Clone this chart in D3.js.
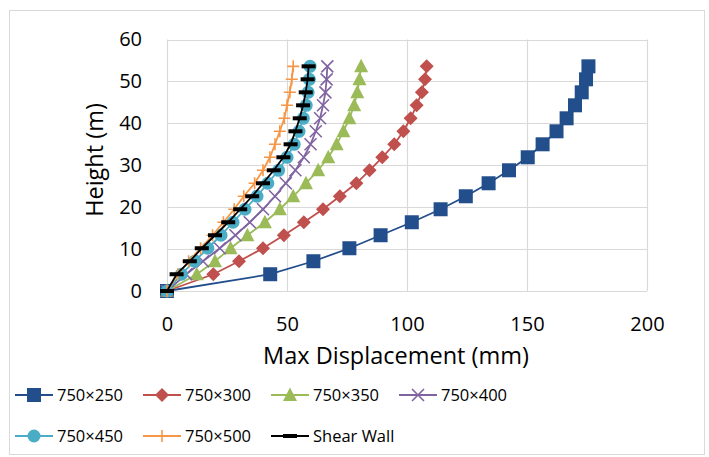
<!DOCTYPE html>
<html>
<head>
<meta charset="utf-8">
<script src="https://cdn.jsdelivr.net/npm/d3@7"></script>
<style>
  body { margin: 0; background: #fff; }
  text { font-family: "Open Sans", "Liberation Sans", sans-serif; fill: #000; }
</style>
</head>
<body>
<svg id="chart" width="709" height="457"></svg>
<script>
// ---- data ----
const heights = [0, 4, 7.1, 10.2, 13.3, 16.4, 19.5, 22.6, 25.7, 28.8, 31.9, 35, 38.1, 41.2, 44.3, 47.4, 50.5, 53.6];
const seriesNames = ["750×250", "750×300", "750×350", "750×400", "750×450", "750×500", "Shear Wall"];
const d250 = [0, 43, 61, 76, 89, 102, 114, 124.5, 134, 142.5, 150.3, 156.5, 162.3, 166.5, 170, 172.8, 174.6, 175.6];
const d300 = [0, 19.3, 30, 40, 48.7, 57, 65, 72, 78.9, 84.4, 89.7, 94.7, 98.5, 101.5, 104, 106.2, 107.5, 108.2];
const d350 = [0, 12.4, 20, 26.5, 33.5, 40.8, 47, 52.6, 57.9, 63, 67.2, 70.7, 73.5, 76, 78, 79.3, 80.2, 80.9];
const d400 = [0, 8, 15, 22, 28.5, 34.5, 40, 45, 49.5, 53.5, 57, 59.8, 62, 63.8, 65, 66, 66.5, 66.8];
const d450 = [0, 6, 11.5, 17, 22.5, 27.5, 32.5, 37.5, 42, 46.5, 50, 53, 55, 56.8, 58, 58.8, 59.3, 59.6];
const d500 = [0, 4.5, 9, 14, 19, 23.5, 28, 32, 36.5, 40, 42.9, 45, 47, 48.9, 50, 51.2, 52, 52.6];
const dShear = [0, 4, 9.5, 14.5, 20, 25.5, 30.5, 35.5, 40, 44.5, 48.5, 51.5, 53.5, 55.3, 56.7, 57.8, 58.6, 59];
const xTicks = [0, 50, 100, 150, 200];
const yTicks = [0, 10, 20, 30, 40, 50, 60];
const xTitle = "Max Displacement (mm)";
const yTitle = "Height (m)";

const seriesValues = [d250, d300, d350, d400, d450, d500, dShear];
const colors = ["#234e8c", "#c0504d", "#9bbb59", "#8064a2", "#4bacc6", "#f79646", "#000000"];
const markers = ["square", "diamond", "triangle", "x", "circle", "plus", "dash"];

const svg = d3.select("#chart");
svg.append("rect").attr("x", 0).attr("y", 0).attr("width", 709).attr("height", 457).attr("fill", "#fff");
svg.append("rect").attr("x", 9.5).attr("y", 10.5).attr("width", 695).attr("height", 444)
  .attr("fill", "none").attr("stroke", "#d9d9d9");

const x = d3.scaleLinear().domain([0, 200]).range([167, 647]);
const y = d3.scaleLinear().domain([0, 60]).range([291, 39.5]);

// gridlines
svg.append("g").selectAll("line").data(yTicks).join("line")
  .attr("x1", 167).attr("x2", 647)
  .attr("y1", d => Math.round(y(d)) + 0.5).attr("y2", d => Math.round(y(d)) + 0.5)
  .attr("stroke", "#d9d9d9").attr("stroke-width", 1.2);
svg.append("g").selectAll("line").data(xTicks).join("line")
  .attr("y1", y(0)).attr("y2", y(60))
  .attr("x1", d => Math.round(x(d)) + 0.5).attr("x2", d => Math.round(x(d)) + 0.5)
  .attr("stroke", "#d9d9d9").attr("stroke-width", 1.2);

// axes (labels only)
const xAxis = svg.append("g").attr("transform", `translate(0,${y(0)})`)
  .call(d3.axisBottom(x).tickValues(xTicks).tickSize(0).tickPadding(26));
xAxis.select(".domain").remove();
xAxis.selectAll("text").style("font-size", "20px").style("font-family", "'Open Sans'");
const yAxis = svg.append("g").attr("transform", `translate(${x(0)},0)`)
  .call(d3.axisLeft(y).tickValues(yTicks).tickSize(0).tickPadding(25));
yAxis.select(".domain").remove();
yAxis.selectAll("text").style("font-size", "20px").style("font-family", "'Open Sans'");

svg.append("text").attr("x", 396).attr("y", 364).attr("text-anchor", "middle")
  .style("font-size", "23.5px").text(xTitle);
svg.append("text").attr("transform", "translate(103,160) rotate(-90)").attr("text-anchor", "middle")
  .style("font-size", "23.5px").text(yTitle);

function drawMarker(g, type, color) {
  if (type === "square") {
    g.append("rect").attr("x", -7).attr("y", -7).attr("width", 14).attr("height", 14).attr("fill", color);
  } else if (type === "diamond") {
    g.append("path").attr("d", "M0,-7L7,0L0,7L-7,0Z").attr("fill", color);
  } else if (type === "triangle") {
    g.append("path").attr("d", "M0,-7.5L7,6L-7,6Z").attr("fill", color);
  } else if (type === "x") {
    g.append("path").attr("d", "M-6,-6L6,6M-6,6L6,-6").attr("stroke", color).attr("stroke-width", 1.6).attr("fill", "none");
  } else if (type === "circle") {
    g.append("circle").attr("r", 6.5).attr("fill", color);
  } else if (type === "plus") {
    g.append("path").attr("d", "M-6,0L6,0M0,-6L0,6").attr("stroke", color).attr("stroke-width", 1.6).attr("fill", "none");
  } else if (type === "dash") {
    g.append("rect").attr("x", -7).attr("y", -2).attr("width", 14).attr("height", 4).attr("fill", color);
  }
}

const line = d3.line().x(d => x(d[0])).y(d => y(d[1]));
seriesValues.forEach((vals, i) => {
  const pts = vals.map((v, k) => [v, heights[k]]);
  const g = svg.append("g");
  g.append("path").attr("d", line(pts)).attr("fill", "none").attr("stroke", colors[i]).attr("stroke-width", 1.8);
  pts.forEach(p => {
    const mg = g.append("g").attr("transform", `translate(${x(p[0])},${y(p[1])})`);
    drawMarker(mg, markers[i], colors[i]);
  });
});

// legend
const legendCols = [15, 143, 271, 399];
const legendRows = [395, 436];
seriesNames.forEach((name, i) => {
  const lx = legendCols[i % 4], ly = legendRows[Math.floor(i / 4)];
  const g = svg.append("g");
  g.append("line").attr("x1", lx).attr("x2", lx + 38).attr("y1", ly).attr("y2", ly)
    .attr("stroke", colors[i]).attr("stroke-width", 1.8);
  const mg = g.append("g").attr("transform", `translate(${lx + 19},${ly})`);
  drawMarker(mg, markers[i], colors[i]);
  g.append("text").attr("x", lx + 42).attr("y", ly).attr("dy", "0.35em")
    .style("font-size", "16.5px").text(name);
});
</script>
</body>
</html>
